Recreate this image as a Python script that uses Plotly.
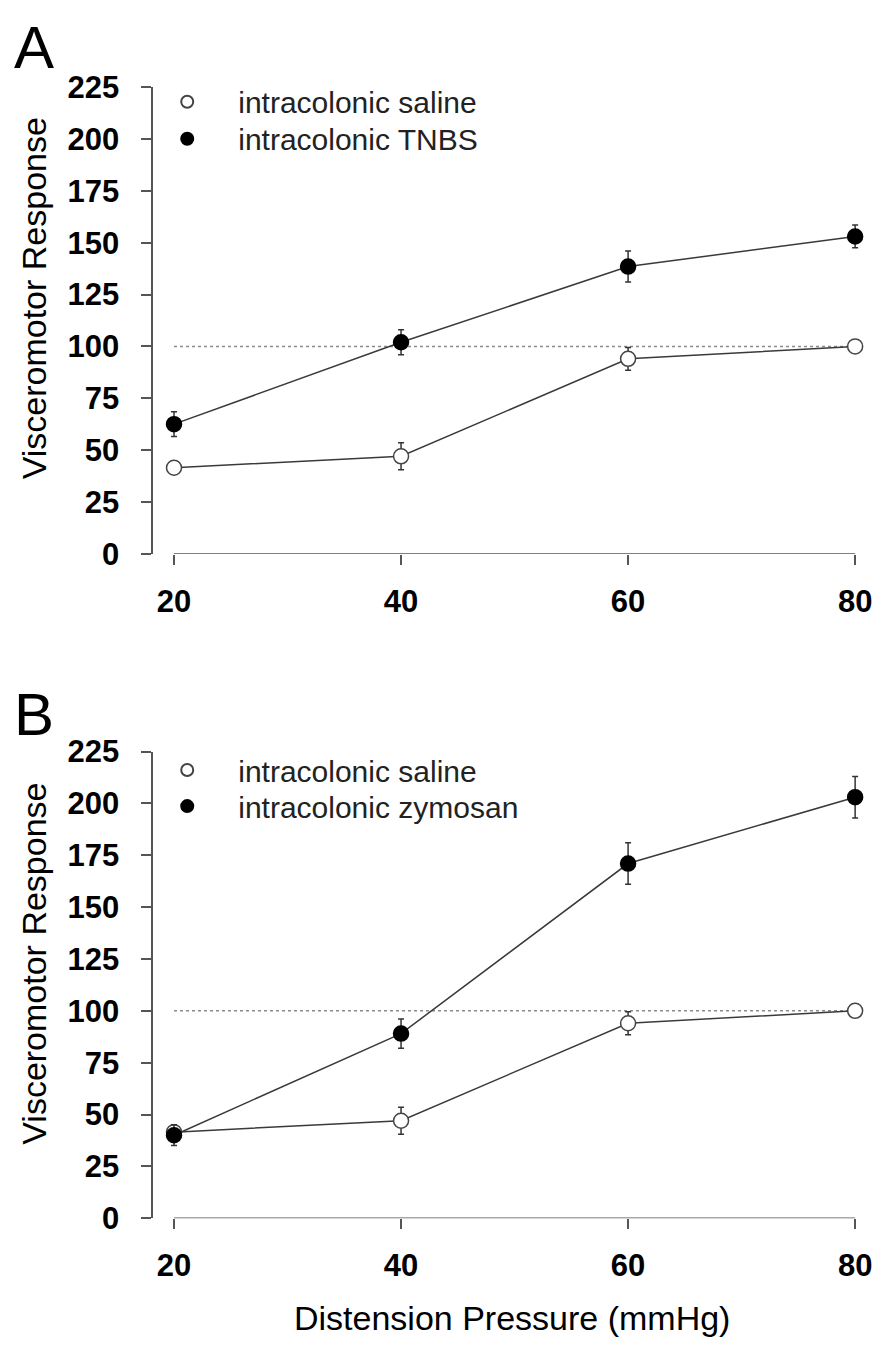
import plotly.graph_objects as go

pressure = [20, 40, 60, 80]
a_saline = [41.5, 47, 94, 100]
a_saline_err = [2, 6.5, 5.5, 0.5]
a_tnbs = [62.5, 102, 138.5, 153]
a_tnbs_err = [6, 6, 7.5, 5.5]
b_saline = [41.5, 47, 94, 100]
b_saline_err = [2, 6.5, 5.5, 0.5]
b_zym = [40, 89, 171, 203]
b_zym_err = [5, 7, 10, 10]
yticks = [0, 25, 50, 75, 100, 125, 150, 175, 200, 225]
xticks = [20, 40, 60, 80]
baseline = 100

W, H = 883, 1357
def fy(py):
    return (H - py) / H

FONT = "Liberation Sans, Arial, sans-serif"
LINE = "#3a3a3a"
AX = "#555"
fig = go.Figure()

def add_series(xa, ya, y, err, filled, name, legend):
    fig.add_trace(go.Scatter(x=pressure, y=y, mode="lines", xaxis=xa, yaxis=ya,
                             line=dict(color=LINE, width=1.5), showlegend=False, hoverinfo="skip"))
    fig.add_trace(go.Scatter(
        x=pressure, y=y, mode="markers", xaxis=xa, yaxis=ya, name=name, legend=legend,
        marker=dict(size=15, color="black" if filled else "white",
                    line=dict(color="black" if filled else "#444", width=1.5)),
        error_y=dict(type="data", array=err, visible=True, color="#333", thickness=1.5, width=3),
        cliponaxis=False))

for xa, ya in (("x", "y"), ("x2", "y2")):
    fig.add_trace(go.Scatter(x=[pressure[0], pressure[-1]], y=[baseline, baseline], mode="lines",
                             xaxis=xa, yaxis=ya, line=dict(color="#8a8a8a", width=1.5, dash="dot"),
                             showlegend=False, hoverinfo="skip"))

add_series("x", "y", a_saline, a_saline_err, False, "intracolonic saline", "legend")
add_series("x", "y", a_tnbs, a_tnbs_err, True, "intracolonic TNBS", "legend2")
add_series("x2", "y2", b_saline, b_saline_err, False, "intracolonic saline", "legend3")
add_series("x2", "y2", b_zym, b_zym_err, True, "intracolonic zymosan", "legend4")

X20, X80, YAX = 175, 860, 153
pxu = (X80 - X20) / 60.0
xr = [20 - (X20 - YAX) / pxu, 80 + (872 - X80) / pxu]
tickfont = dict(family=FONT, size=31, color="black", weight="bold")

xcommon = dict(range=xr, tickvals=xticks, showline=False, ticks="outside", ticklen=10,
               tickwidth=1.5, tickcolor=AX, showgrid=False, zeroline=False,
               tickfont=tickfont, ticklabelstandoff=10, domain=[YAX / W, 872 / W])
ycommon = dict(range=[0, 225], tickvals=yticks, showline=True, linecolor=AX, linewidth=1.5,
               ticks="outside", ticklen=10, tickwidth=1.5, tickcolor=AX, showgrid=False,
               zeroline=False, tickfont=tickfont, ticklabelstandoff=16)

legfont = dict(family=FONT, size=30, color="#222")
def leg(py):
    return dict(x=137 / W, y=fy(py), xanchor="left", yanchor="middle", bgcolor="rgba(0,0,0,0)",
                font=legfont, itemsizing="constant", itemwidth=92)

fig.update_layout(
    width=W, height=H, margin=dict(l=0, r=0, t=0, b=0),
    paper_bgcolor="white", plot_bgcolor="white",
    xaxis=dict(**xcommon, anchor="y"),
    yaxis=dict(**ycommon, domain=[fy(551), fy(72)], anchor="free", position=YAX / W),
    xaxis2=dict(**xcommon, anchor="y2"),
    yaxis2=dict(**ycommon, domain=[fy(1233), fy(754)], anchor="free", position=YAX / W),
    legend=leg(87), legend2=leg(125), legend3=leg(773), legend4=leg(810),
    annotations=[
        dict(text="A", x=12 / W, y=fy(31), xref="paper", yref="paper", xanchor="left", yanchor="middle",
             showarrow=False, font=dict(family=FONT, size=60, color="black")),
        dict(text="B", x=12 / W, y=fy(716), xref="paper", yref="paper", xanchor="left", yanchor="middle",
             showarrow=False, font=dict(family=FONT, size=60, color="black")),
        dict(text="Visceromotor Response", x=34 / W, y=fy(289), xref="paper", yref="paper",
             xanchor="center", yanchor="middle", textangle=-90, showarrow=False,
             font=dict(family=FONT, size=34, color="black")),
        dict(text="Visceromotor Response", x=34 / W, y=fy(972), xref="paper", yref="paper",
             xanchor="center", yanchor="middle", textangle=-90, showarrow=False,
             font=dict(family=FONT, size=34, color="black")),
        dict(text="Distension Pressure (mmHg)", x=515 / W, y=fy(1335), xref="paper", yref="paper",
             xanchor="center", yanchor="middle", showarrow=False,
             font=dict(family=FONT, size=34, color="black")),
    ],
    shapes=[
        dict(type="line", xref="x", yref="y", x0=20, x1=80, y0=0, y1=0, line=dict(color=AX, width=1.5)),
        dict(type="line", xref="x2", yref="y2", x0=20, x1=80, y0=0, y1=0, line=dict(color=AX, width=1.5)),
    ],
)

fig.write_html("out.html", config={"displayModeBar": False},
               post_script="document.body.style.margin='0px';")
